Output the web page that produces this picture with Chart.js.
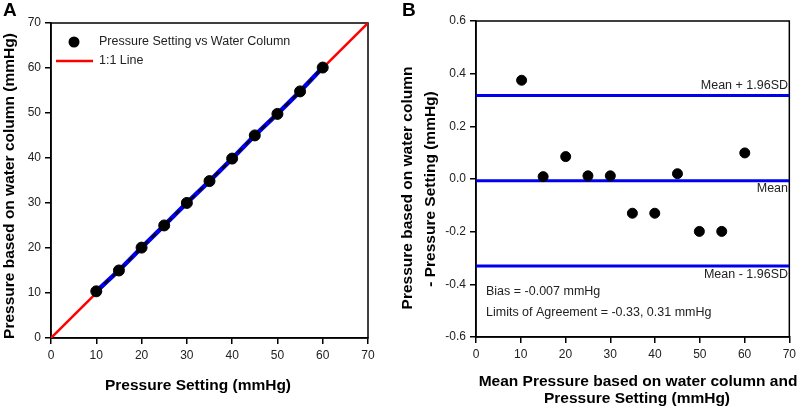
<!DOCTYPE html>
<html>
<head>
<meta charset="utf-8">
<script src="https://cdn.jsdelivr.net/npm/chart.js@4.4.1/dist/chart.umd.min.js"></script>
<style>
  html, body { margin: 0; padding: 0; background: #fff; }
  #wrap { position: relative; width: 800px; height: 409px; }
  .panel { position: absolute; top: 0; width: 400px; height: 409px; }
</style>
</head>
<body>
<div id="wrap">
  <div class="panel" style="left:0"><canvas id="chartA"></canvas></div>
  <div class="panel" style="left:400px"><canvas id="chartB"></canvas></div>
</div>
<script>
// Pressure settings and the pressure measured by water column (panel A)
const settings = [10, 15, 20, 25, 30, 35, 40, 45, 50, 55, 60];
const waterColumn = [10.375, 15.009, 20.085, 25.012, 30.012, 34.870, 39.870, 45.020, 49.801, 54.801, 60.099];
const identityX = [0, 70];

// Bland-Altman (panel B)
const meanPressure = [10.19, 15.00, 20.04, 25.01, 30.01, 34.94, 39.94, 45.01, 49.90, 54.90, 60.05];
const difference = [0.375, 0.009, 0.085, 0.012, 0.012, -0.130, -0.130, 0.020, -0.199, -0.199, 0.099];
const limitUpper = 0.317;
const bias = -0.007;
const limitLower = -0.330;

const FONT = "'Liberation Sans', Arial, sans-serif";
const TXT = '#222';
Chart.defaults.font.family = FONT;
Chart.defaults.color = TXT;

function axisOpts(min, max, step, fmt) {
    return {
        type: 'linear',
        min: min,
        max: max,
        ticks: {
            stepSize: step,
            padding: 4,
            color: TXT,
            font: { size: 12 },
            callback: fmt
        },
        grid: { display: true, drawOnChartArea: false, drawTicks: true, tickLength: 6, color: '#000', lineWidth: 1.5 },
        border: { display: true, color: '#000', width: 1.5 }
    };
}

const boxPlugin = {
    id: 'box',
    beforeDatasetsDraw(chart) {
        const a = chart.chartArea, ctx = chart.ctx;
        ctx.save();
        ctx.strokeStyle = '#000';
        ctx.lineWidth = 1.5;
        ctx.strokeRect(a.left, a.top, a.right - a.left, a.bottom - a.top);
        ctx.restore();
    }
};

function text(ctx, str, x, y, opts) {
    ctx.save();
    ctx.font = opts.font;
    ctx.fillStyle = opts.color || TXT;
    ctx.textAlign = opts.align || 'left';
    ctx.textBaseline = 'middle';
    if (opts.rotate) {
        ctx.translate(x, y);
        ctx.rotate(-Math.PI / 2);
        ctx.fillText(str, 0, 0);
    } else {
        ctx.fillText(str, x, y);
    }
    ctx.restore();
}

const BOLD = 'bold 15.5px ' + FONT;
const SMALL = '12.5px ' + FONT;

// Panel A
new Chart(document.getElementById('chartA').getContext('2d'), {
    type: 'scatter',
    data: {
        datasets: [
            {
                label: 'Pressure Setting vs Water Column',
                data: settings.map((s, i) => ({ x: s, y: waterColumn[i] })),
                backgroundColor: '#000',
                borderColor: '#000',
                pointRadius: 5.5,
                order: 0
            },
            {
                label: 'dashed',
                type: 'line',
                data: settings.map((s, i) => ({ x: s, y: waterColumn[i] })),
                borderColor: '#000',
                borderWidth: 2,
                borderDash: [6, 5],
                pointRadius: 0,
                order: 1
            },
            {
                label: 'fit',
                type: 'line',
                data: settings.map((s, i) => ({ x: s, y: waterColumn[i] })),
                borderColor: '#0000ee',
                borderWidth: 4.5,
                pointRadius: 0,
                order: 2
            },
            {
                label: '1:1 Line',
                type: 'line',
                data: identityX.map(v => ({ x: v, y: v })),
                borderColor: '#ff0000',
                borderWidth: 2.5,
                pointRadius: 0,
                order: 3
            }
        ]
    },
    options: {
        responsive: true,
        maintainAspectRatio: false,
        animation: false,
        layout: { padding: { left: 0, top: 23, right: 32, bottom: 0 } },
        plugins: { legend: { display: false }, tooltip: { enabled: false } },
        scales: {
            x: Object.assign(axisOpts(0, 70, 10), { afterFit: s => { s.height = 71; } }),
            y: Object.assign(axisOpts(0, 70, 10), { afterFit: s => { s.width = 51; } })
        }
    },
    plugins: [boxPlugin, {
        id: 'labelsA',
        afterDraw(chart) {
            const ctx = chart.ctx;
            text(ctx, 'A', 3, 11, { font: 'bold 19px ' + FONT, color: '#000' });
            text(ctx, 'Pressure Setting (mmHg)', 198, 386, { font: BOLD, align: 'center', color: '#000' });
            text(ctx, 'Pressure based on water column (mmHg)', 10, 186, { font: BOLD, align: 'center', rotate: true, color: '#000' });
            // legend
            ctx.save();
            ctx.fillStyle = '#000';
            ctx.beginPath();
            ctx.arc(74, 42, 5.5, 0, Math.PI * 2);
            ctx.fill();
            ctx.strokeStyle = '#ff0000';
            ctx.lineWidth = 2.5;
            ctx.beginPath();
            ctx.moveTo(56, 61);
            ctx.lineTo(93, 61);
            ctx.stroke();
            ctx.restore();
            text(ctx, 'Pressure Setting vs Water Column', 99, 42, { font: SMALL });
            text(ctx, '1:1 Line', 99, 61, { font: SMALL });
        }
    }]
});

// Panel B
const hLine = (v) => [{ x: 0, y: v }, { x: 70, y: v }];
new Chart(document.getElementById('chartB').getContext('2d'), {
    type: 'scatter',
    data: {
        datasets: [
            {
                label: 'Difference',
                data: meanPressure.map((m, i) => ({ x: m, y: difference[i] })),
                backgroundColor: '#000',
                borderColor: '#000',
                pointRadius: 5,
                order: 0
            },
            { label: 'Mean + 1.96SD', type: 'line', data: hLine(limitUpper), borderColor: '#0000ee', borderWidth: 3, pointRadius: 0, order: 1 },
            { label: 'Mean', type: 'line', data: hLine(bias), borderColor: '#0000ee', borderWidth: 3, pointRadius: 0, order: 1 },
            { label: 'Mean - 1.96SD', type: 'line', data: hLine(limitLower), borderColor: '#0000ee', borderWidth: 3, pointRadius: 0, order: 1 }
        ]
    },
    options: {
        responsive: true,
        maintainAspectRatio: false,
        animation: false,
        layout: { padding: { left: 0, top: 21, right: 7, bottom: 0 } },
        plugins: { legend: { display: false }, tooltip: { enabled: false } },
        scales: {
            x: Object.assign(axisOpts(0, 70, 10), { afterFit: s => { s.height = 72; } }),
            y: Object.assign(axisOpts(-0.6, 0.6, 0.2, v => (Math.abs(v) < 1e-9 ? 0 : v).toFixed(1)), { afterFit: s => { s.width = 76; } })
        }
    },
    plugins: [boxPlugin, {
        id: 'labelsB',
        afterDraw(chart) {
            const ctx = chart.ctx;
            text(ctx, 'B', 2, 11, { font: 'bold 19px ' + FONT, color: '#000' });
            text(ctx, 'Mean Pressure based on water column and', 238, 382, { font: BOLD, align: 'center', color: '#000' });
            text(ctx, 'Pressure Setting (mmHg)', 237, 399, { font: BOLD, align: 'center', color: '#000' });
            text(ctx, 'Pressure based on water column', 8, 188, { font: BOLD, align: 'center', rotate: true, color: '#000' });
            text(ctx, '- Pressure Setting (mmHg)', 31, 189, { font: BOLD, align: 'center', rotate: true, color: '#000' });
            text(ctx, 'Mean + 1.96SD', 388, 86, { font: SMALL, align: 'right' });
            text(ctx, 'Mean', 388, 189, { font: SMALL, align: 'right' });
            text(ctx, 'Mean - 1.96SD', 388, 275, { font: SMALL, align: 'right' });
            text(ctx, 'Bias = -0.007 mmHg', 86, 292, { font: SMALL });
            text(ctx, 'Limits of Agreement = -0.33, 0.31 mmHg', 86, 313, { font: SMALL });
        }
    }]
});
</script>
</body>
</html>
